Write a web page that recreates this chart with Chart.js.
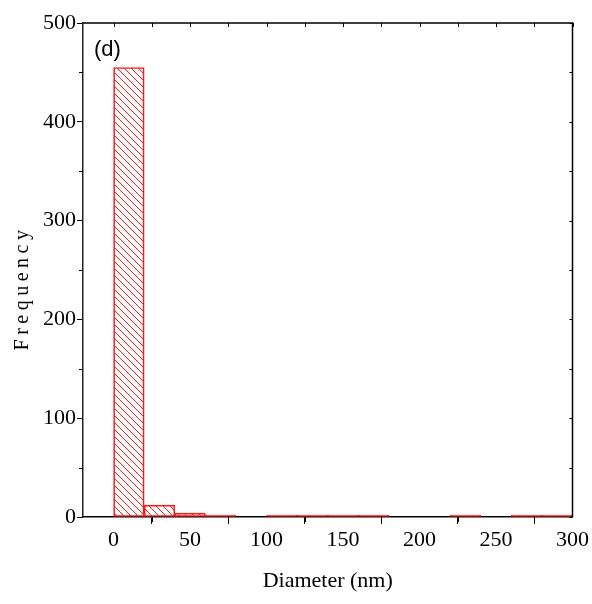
<!DOCTYPE html>
<html>
<head>
<meta charset="utf-8">
<script src="https://cdn.jsdelivr.net/npm/chart.js@4.4.1/dist/chart.umd.min.js"></script>
<style>
  html, body { margin: 0; padding: 0; background: #ffffff; }
  #wrap { width: 592px; height: 604px; }
</style>
</head>
<body>
<div id="wrap"><canvas id="hist" width="592" height="604"></canvas></div>
<script>
// Histogram of particle diameters, 20 nm bins
const binCenters = [10, 30, 50, 70, 90, 110, 130, 150, 170, 190, 210, 230, 250, 270, 290];
const frequency  = [455, 12, 4, 1, 0, 1, 1, 1, 1, 0, 0, 1, 0, 1, 1];
const xTickValues = [0, 50, 100, 150, 200, 250, 300];
const yTickValues = [0, 100, 200, 300, 400, 500];
const xMinorTicks = [25, 75, 125, 175, 225, 275];
const yMinorTicks = [50, 150, 250, 350, 450];
const panelLabel = '(d)';
const xTitle = 'Diameter (nm)';
const yTitle = 'Frequency';

const RED = '#ff1a1a';

// diagonal hatch fill for the bars
function makeHatch() {
  const s = 7;
  const c = document.createElement('canvas');
  c.width = s; c.height = s;
  const g = c.getContext('2d');
  g.strokeStyle = RED;
  g.lineWidth = 1;
  g.beginPath();
  g.moveTo(-1, -1); g.lineTo(s + 1, s + 1);
  g.moveTo(-s - 1, -1); g.lineTo(1, s + 1);
  g.moveTo(s - 1, -1); g.lineTo(2 * s + 1, s + 1);
  g.stroke();
  return document.getElementById('hist').getContext('2d').createPattern(c, 'repeat');
}

const framePlugin = {
  id: 'frame',
  afterDraw(chart) {
    const { ctx, chartArea: a, scales } = chart;
    const xs = scales.x, ys = scales.y;
    ctx.save();
    ctx.strokeStyle = '#000';
    ctx.lineWidth = 1.5;
    // top and right edges of the frame
    ctx.beginPath();
    ctx.moveTo(a.left, a.top);
    ctx.lineTo(a.right, a.top);
    ctx.lineTo(a.right, a.bottom);
    ctx.stroke();

    ctx.lineWidth = 1;
    ctx.beginPath();
    // minor ticks on the bottom axis (outside) and top axis (inside)
    xMinorTicks.forEach(v => {
      const px = Math.round(xs.getPixelForValue(v)) + 0.5;
      ctx.moveTo(px, a.bottom); ctx.lineTo(px, a.bottom + 5);
    });
    xTickValues.concat(xMinorTicks).forEach(v => {
      const px = Math.round(xs.getPixelForValue(v)) + 0.5;
      ctx.moveTo(px, a.top); ctx.lineTo(px, a.top + 4);
    });
    // minor ticks on the left axis (outside), and small ticks on the right edge
    yMinorTicks.forEach(v => {
      const py = Math.round(ys.getPixelForValue(v)) + 0.5;
      ctx.moveTo(a.left, py); ctx.lineTo(a.left - 4, py);
    });
    yTickValues.concat(yMinorTicks).forEach(v => {
      const py = Math.round(ys.getPixelForValue(v)) + 0.5;
      ctx.moveTo(a.right, py); ctx.lineTo(a.right - 3, py);
    });
    ctx.stroke();

    // panel label
    ctx.fillStyle = '#000';
    ctx.font = '22px "Liberation Sans", Arial, sans-serif';
    ctx.textAlign = 'left';
    ctx.textBaseline = 'alphabetic';
    ctx.fillText(panelLabel, a.left + 11, a.top + 33);

    // rotated, letter-spaced y title
    ctx.translate(23, 290);
    ctx.rotate(-Math.PI / 2);
    ctx.font = '20px "Liberation Serif", "Times New Roman", serif';
    if ('letterSpacing' in ctx) ctx.letterSpacing = '4.5px';
    ctx.textAlign = 'center';
    ctx.textBaseline = 'middle';
    ctx.fillText(yTitle, 2, 0);
    ctx.restore();
  }
};

const hatch = makeHatch();
const serif = { family: '"Liberation Serif", "Times New Roman", serif', size: 22 };

function binFill(ctx) {
  const v = ctx.raw ? ctx.raw.y : 0;
  if (!v) return 'rgba(0,0,0,0)';      // empty bin: nothing drawn
  return v <= 2 ? RED : hatch;           // single counts are too short for the hatch
}

new Chart(document.getElementById('hist'), {
  type: 'bar',
  data: {
    datasets: [{
      data: binCenters.map((x, i) => ({ x: x, y: frequency[i] })),
      backgroundColor: binFill,
      borderColor: RED,
      borderWidth: ctx => (ctx.raw && ctx.raw.y > 0 ? 1 : 0),
      borderSkipped: false,
      minBarLength: 2,
      barPercentage: 1,
      categoryPercentage: 1
    }]
  },
  options: {
    responsive: false,
    animation: false,
    events: [],
    layout: { padding: { top: 23, right: 19, left: 0, bottom: 0 } },
    plugins: { legend: { display: false }, tooltip: { enabled: false } },
    scales: {
      x: {
        type: 'linear',
        offset: false,
        min: -20,
        max: 300,
        afterBuildTicks: s => { s.ticks = xTickValues.map(v => ({ value: v })); },
        ticks: { color: '#000', font: serif, padding: 3, maxRotation: 0, autoSkip: false },
        grid: { display: true, drawOnChartArea: false, tickLength: 7, tickColor: '#000', tickWidth: 1 },
        border: { display: true, color: '#000', width: 1.5 },
        title: { display: true, text: xTitle, color: '#000', font: serif, padding: { top: 4, bottom: 10 } },
        afterFit: s => { s.height = 87; }
      },
      y: {
        min: 0,
        max: 500,
        afterBuildTicks: s => { s.ticks = yTickValues.map(v => ({ value: v })); },
        ticks: { color: '#000', font: serif, padding: 1 },
        grid: { display: true, drawOnChartArea: false, tickLength: 6, tickColor: '#000', tickWidth: 1 },
        border: { display: true, color: '#222', width: 1.5 },
        afterFit: s => { s.width = 83; }
      }
    }
  },
  plugins: [framePlugin]
});
</script>
</body>
</html>
